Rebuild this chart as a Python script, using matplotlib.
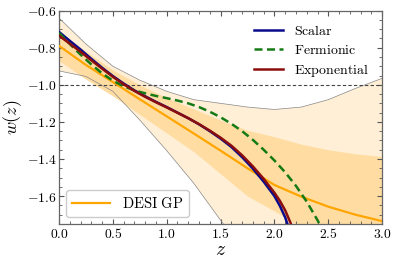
import numpy as np
import matplotlib
matplotlib.use("Agg")
import matplotlib.pyplot as plt
from matplotlib.ticker import FormatStrFormatter, MultipleLocator
from matplotlib.lines import Line2D

plt.rcParams['mathtext.fontset'] = 'cm'
plt.rcParams['font.family'] = ['DejaVu Serif']

# DESI GP reconstruction
z_gp = [0.0, 0.25, 0.5, 0.75, 1.0, 1.25, 1.5, 1.75, 2.0, 2.25, 2.5, 2.75, 3.0]
w_gp = [-0.79, -0.893, -0.985, -1.078, -1.17, -1.262, -1.355, -1.45, -1.54, -1.603, -1.657, -1.70, -1.735]
inner_up = [-0.71, -0.82, -0.92, -1.0, -1.07, -1.13, -1.19, -1.245, -1.28, -1.32, -1.35, -1.372, -1.386]
inner_lo = [-0.87, -0.97, -1.06, -1.16, -1.26, -1.36, -1.48, -1.60, -1.68, -1.77, -1.85, -1.90, -1.95]
outer_up = [-0.64, -0.78, -0.90, -0.975, -1.035, -1.08, -1.10, -1.12, -1.133, -1.12, -1.08, -1.02, -0.965]
outer_lo = [-0.925, -0.955, -1.035, -1.19, -1.355, -1.53, -1.73, -1.92, -2.10, -2.25, -2.40, -2.55, -2.70]

# Model curves
z_mod = [0.0, 0.1, 0.2, 0.3, 0.4, 0.5, 0.6, 0.7, 0.8, 0.9, 1.0, 1.1, 1.2, 1.3, 1.4,
         1.5, 1.6, 1.7, 1.8, 1.9, 2.0, 2.05, 2.1, 2.15, 2.2]
w_scalar = [-0.715, -0.763, -0.81, -0.86, -0.908, -0.953, -0.993, -1.03, -1.062, -1.092,
            -1.12, -1.15, -1.18, -1.213, -1.25, -1.29, -1.335, -1.39, -1.452, -1.522,
            -1.60, -1.652, -1.715, -1.80, -1.89]
w_expo = [-0.735, -0.778, -0.822, -0.868, -0.913, -0.957, -0.997, -1.033, -1.065, -1.094,
          -1.122, -1.151, -1.18, -1.212, -1.247, -1.285, -1.328, -1.38, -1.44, -1.507,
          -1.582, -1.625, -1.677, -1.745, -1.82]
z_ferm = [0.0, 0.1, 0.2, 0.3, 0.4, 0.5, 0.6, 0.7, 0.8, 0.9, 1.0, 1.1, 1.2, 1.3, 1.4,
          1.5, 1.6, 1.7, 1.8, 1.9, 2.0, 2.1, 2.2, 2.3, 2.4, 2.5]
w_ferm = [-0.72, -0.78, -0.837, -0.89, -0.938, -0.978, -1.008, -1.03, -1.046, -1.06,
          -1.072, -1.085, -1.10, -1.12, -1.145, -1.175, -1.21, -1.25, -1.297, -1.35,
          -1.408, -1.472, -1.545, -1.63, -1.73, -1.84]

fig = plt.figure(figsize=(3.96, 2.65), dpi=100)
ax = fig.add_axes([0.149, 0.155, 0.816, 0.805])

ax.fill_between(z_gp, outer_lo, outer_up, color='#FFEFD6', lw=0, zorder=1)
ax.fill_between(z_gp, inner_lo, inner_up, color='#FFDDA2', lw=0, zorder=1.5)
ax.plot(z_gp, outer_up, color='#888888', lw=0.5, zorder=2)
ax.plot(z_gp, outer_lo, color='#888888', lw=0.5, zorder=2)

ax.axhline(-1.0, color='#444444', ls=(0, (3, 2)), lw=0.8, zorder=2.5)

l_gp, = ax.plot(z_gp, w_gp, color='#FFA500', lw=1.6, zorder=3)
l_s, = ax.plot(z_mod, w_scalar, color='#0a0a8c', lw=1.8, zorder=4, label=r'$\mathrm{Scalar}$')
l_f, = ax.plot(z_ferm, w_ferm, color='#157a15', lw=1.8, ls=(0, (3.2, 1.8)), zorder=4, label=r'$\mathrm{Fermionic}$')
l_e, = ax.plot(z_mod, w_expo, color='#8b0d0d', lw=1.8, zorder=4.5, label=r'$\mathrm{Exponential}$')

ax.set_xlim(0, 3)
ax.set_ylim(-1.75, -0.6)

ax.xaxis.set_major_locator(MultipleLocator(0.5))
ax.xaxis.set_minor_locator(MultipleLocator(0.1))
ax.yaxis.set_major_locator(MultipleLocator(0.2))
ax.yaxis.set_minor_locator(MultipleLocator(0.05))
ax.xaxis.set_major_formatter(FormatStrFormatter('$%.1f$'))
ax.yaxis.set_major_formatter(FormatStrFormatter('$%.1f$'))
ax.tick_params(which='both', direction='in', top=True, right=True, colors='#555555',
               labelcolor='black', labelsize=9.8, pad=2)
ax.tick_params(which='major', length=3.5, width=0.8)
ax.tick_params(which='minor', length=2, width=0.6)
for s in ax.spines.values():
    s.set_color('#666666')
    s.set_linewidth(0.9)

ax.set_xlabel('$z$', fontsize=14, labelpad=0)
ax.set_ylabel('$w(z)$', fontsize=13)
ax.yaxis.set_label_coords(-0.108, 0.5)

leg1 = ax.legend(handles=[l_s, l_f, l_e], loc='upper right', frameon=False,
                 prop={'size': 10}, handlelength=2.1, labelspacing=0.35,
                 borderaxespad=0.55)
ax.add_artist(leg1)
leg2 = ax.legend(handles=[Line2D([], [], color='#FFA500', lw=1.6)], labels=[r'$\mathrm{DESI\ GP}$'],
                 loc='lower left', frameon=True, fancybox=True, framealpha=1,
                 edgecolor='#cccccc', prop={'size': 10.5}, handlelength=2.6, borderaxespad=0.5)

fig.savefig('out.png', dpi=100)
